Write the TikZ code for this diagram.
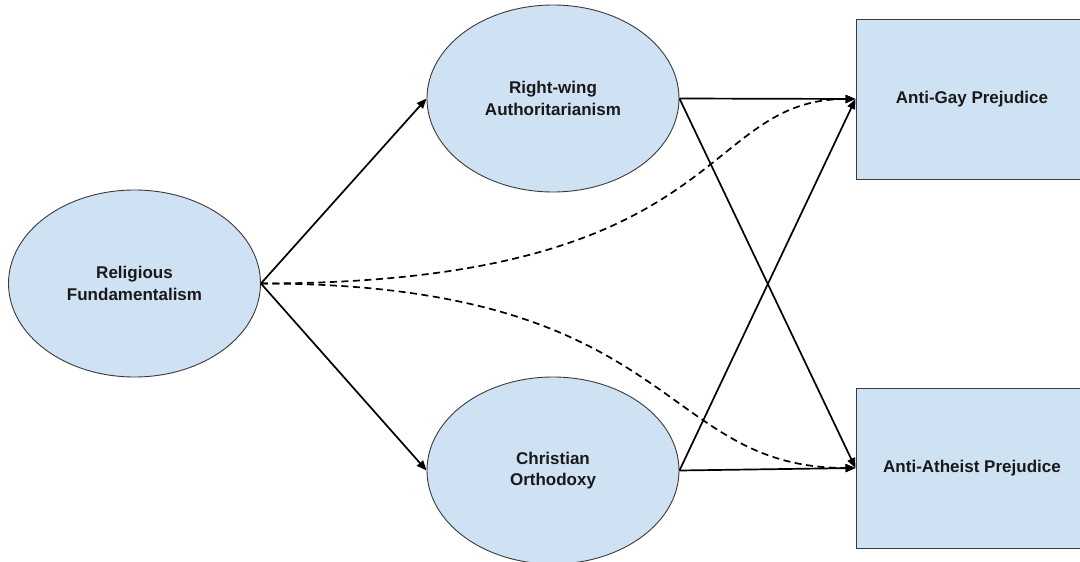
\documentclass[tikz,border=0pt]{standalone}
\usepackage{fontspec}
\setmainfont{Liberation Sans}
\usetikzlibrary{shapes.geometric,arrows.meta}
\definecolor{boxblue}{HTML}{CFE2F3}
\definecolor{edgegray}{HTML}{3A3A3A}
\begin{document}
\begin{tikzpicture}[x=1pt,y=-1pt,
  lbl/.style={font=\bfseries\fontsize{17}{21.5}\selectfont, text=black!90, align=center},
  oval/.style={ellipse, lbl, draw=edgegray, line width=0.9pt, fill=boxblue,
    minimum width=252pt, minimum height=187pt, inner sep=0pt},
  outbox/.style={rectangle, lbl, draw=edgegray, line width=1pt, fill=boxblue,
    minimum width=232pt, minimum height=160pt, inner sep=0pt},
  arr/.style={-{Triangle[length=10pt,width=8pt]}, line width=1.7pt, black},
  dsh/.style={arr, dash pattern=on 7pt off 4.5pt}]
\clip (0,0) rectangle (1080,562);
\fill[white] (0,0) rectangle (1080,562);

\node[oval] (rf) at (134.5,283.5) {Religious\\Fundamentalism};
\node[oval] (rwa) at (553,98.5) {Right-wing\\Authoritarianism};
\node[oval] (co) at (553,470.5) {Christian\\Orthodoxy};
\node[outbox] (ag) at (972,99) {Anti-Gay Prejudice};
\node[outbox] (aa) at (972,468) {Anti-Atheist Prejudice};

\draw[arr] (rf.east) -- (rwa.west);
\draw[arr] (rf.east) -- (co.west);
\draw[arr] (rwa.east) -- (ag.west);
\draw[arr] (rwa.east) -- (aa.west);
\draw[arr] (co.east) -- (ag.west);
\draw[arr] (co.east) -- (aa.west);

\draw[dsh] (rf.east) .. controls +(471,0) and +(-159,0) .. (ag.west);
\draw[dsh] (rf.east) .. controls +(420,0) and +(-200,0) .. (aa.west);
\end{tikzpicture}
\end{document}
